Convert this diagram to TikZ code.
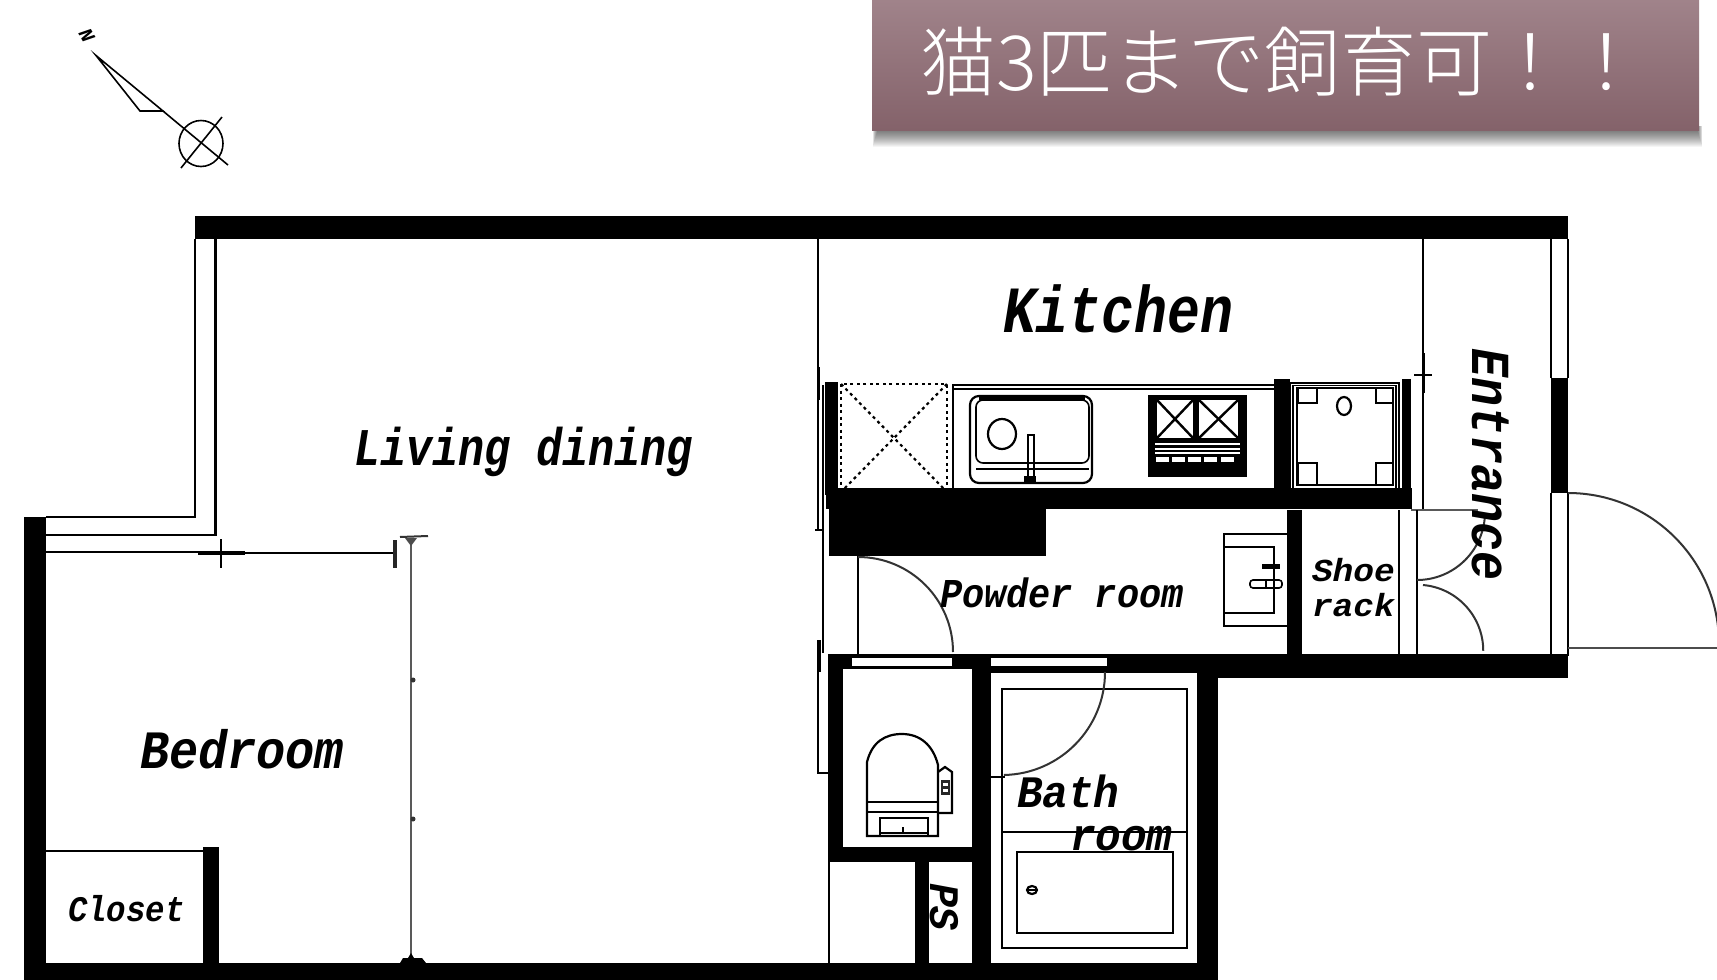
\documentclass[tikz,border=0pt]{standalone}
\usepackage{fontspec}
\newfontfamily\cadfont{Liberation Mono}
\newfontfamily\cjk{Noto Sans CJK JP}[UprightFont=* Light]
\newcommand{\cadsize}[1]{\cadfont\bfseries\itshape\fontsize{#1}{#1}\selectfont}
\definecolor{bannertop}{HTML}{A0838A}
\definecolor{bannerbot}{HTML}{84626A}
\tikzset{
  wall/.style={fill=black,draw=none},
  thinline/.style={draw=black,line width=2.2pt},
  hair/.style={draw=black,line width=1.6pt},
  grayline/.style={draw=black!65,line width=2.6pt},
  doorarc/.style={draw=black!80,line width=2pt},
  dotline/.style={draw=black,line width=2.2pt,dash pattern=on 3pt off 3.5pt},
  cadlabel/.style={anchor=base west,inner sep=0pt,outer sep=0pt,text=black,transform shape}
}
\begin{document}
\begin{tikzpicture}[x=1pt,y=-1pt]
\useasboundingbox[fill=white] (0,0) rectangle (1717,980);

% banner shadow
\foreach \d in {1,...,18}{
  \fill[black,opacity=.04] (878-\d*.3,126) rectangle (1697+\d*.3,129+\d);
}
\path[top color=bannertop,bottom color=bannerbot] (872,0) rectangle (1699,130);
\node[anchor=base west,inner sep=0pt,text=white,font=\cjk\fontsize{76}{76}\selectfont] (banner) at (920,90) {猫3匹まで飼育可！！};

% north mark
\node[cadlabel,rotate=-60,font=\cadsize{20}] (north) at (78,33) {N};
\draw[hair] (96,55.5) -- (163,111) -- (140,111) -- cycle;
\draw[hair] (163,111) -- (181,126);
\draw[hair] (201,143.5) circle[x radius=22pt,y radius=23pt];
\draw[hair] (222,117) -- (181,168);
\draw[hair] (181,126) -- (228,165);

% outer walls
\fill[wall] (195,216) rectangle (1568,239);
\fill[wall] (24,517) rectangle (46,980);
\fill[wall] (24,963) rectangle (1218,980);
\fill[wall] (203,847) rectangle (219,963);
\fill[wall] (1197,673) rectangle (1218,980);
\fill[wall] (1551,378) rectangle (1568,493);

% balcony-side double walls
\draw[thinline] (195,239) -- (195,517) -- (46,517);
\draw[thinline] (215.5,239) -- (215.5,535) -- (46,535);
\draw[thinline] (1551,239) -- (1551,378);
\draw[thinline] (1568,239) -- (1568,378);
\draw[thinline] (1551,493) -- (1551,656);
\draw[thinline] (1568,493) -- (1568,656);

% bedroom screen
\draw[thinline] (46,552) -- (200,552);
\draw[line width=4pt] (198,552.5) -- (245,552.5);
\draw[thinline] (221,539) -- (221,568);
\draw[thinline] (245,553) -- (395,553);
\draw[line width=4pt,black!85] (395,540) -- (395,568);
\draw[grayline] (411,538) -- (411,963);
\draw[line width=2pt,black!80] (400,537) -- (428,536);
\fill[black!70] (405,538) -- (417,538) -- (411,546) -- cycle;
\fill[black!80] (413,680) circle (2.5pt);
\fill[black!80] (413,819) circle (2.5pt);
\fill[black] (400,963) -- (403,958) -- (408,958) -- (411,953) -- (414,958) -- (422,958) -- (426,963) -- cycle;

% closet line
\draw[thinline] (46,851) -- (204,851);

% long thin partition
\draw[thinline] (818,239) -- (818,367);
\draw[line width=3pt] (818,367) -- (818,400);
\draw[thinline] (818,400) -- (818,530);
\draw[thinline] (823,385) -- (823,530) -- (815,530);
\draw[thinline] (823,530) -- (823,653);
\draw[line width=3.5pt] (819,640) -- (819,672);
\draw[thinline] (818,672) -- (818,773) -- (830,773);

% kitchen
\fill[wall] (825,382) rectangle (838,495);
\fill[wall] (826,488) rectangle (1412,509);
\fill[wall] (829,495) rectangle (1046,556);
\fill[wall] (1274,379) rectangle (1290,497);
\fill[wall] (1402,379) rectangle (1411,509);
% fridge
\draw[dotline] (841,384) rectangle (947,492);
\draw[dotline] (841,384) -- (947,492);
\draw[dotline] (947,384) -- (841,492);
% counter
\draw[thinline] (953,488) -- (953,385) -- (1274,385);
\draw[hair] (953,389) -- (1274,389);
% sink
\draw[thinline,rounded corners=9pt] (970,396) rectangle (1092,483);
\draw[hair,rounded corners=7pt] (976,400) rectangle (1089,463);
\draw[line width=4pt] (979,398) -- (1085,398);
\draw[hair] (976,469) -- (1089,469);
\draw[thinline] (1002,434) circle[x radius=14pt,y radius=15pt];
\draw[hair] (1028,435) rectangle (1034,482);
\fill[black] (1024,476) rectangle (1036,483);
% stove
\fill[wall] (1148,395) rectangle (1247,477);
\foreach \a/\b in {1157/1193,1199/1238}{
  \fill[white] (\a,400) rectangle (\b,438);
  \draw[line width=2.4pt] (\a,400) -- (\b,438);
  \draw[line width=2.4pt] (\b,400) -- (\a,438);
}
\foreach \y in {443,448,452}{\fill[white] (1155,\y) rectangle (1240,\y+2.2);}
\foreach \a in {1156,1172,1188,1204,1221}{\fill[white] (\a,457) rectangle (\a+13,462);}
% washer pan
\draw[hair] (1290,383) rectangle (1399,495);
\draw[hair] (1293,385.5) rectangle (1396,490);
\draw[hair] (1297,388) rectangle (1393,485);
\foreach \a/\b/\c/\d in {1298/1317/388/403,1376/1393/388/403,1298/1317/463/485,1376/1393/463/485}{
  \draw[thinline] (\a,\c) rectangle (\b,\d);
}
\draw[thinline] (1344,406) circle[x radius=7pt,y radius=9pt];

% thin lines near entrance
\draw[thinline] (1423,239) -- (1423,353);
\draw[line width=3pt] (1423,353) -- (1423,393);
\draw[thinline] (1414,375) -- (1432,375);
\draw[thinline] (1423,393) -- (1423,509);
\draw[grayline] (1411,510) -- (1478,510);
\draw[thinline] (1399,510) -- (1399,655);
\draw[thinline] (1417,510) -- (1417,655);
\fill[black] (1302,510) rectangle (1287,655);
\draw[doorarc] (1417,580) arc[start angle=-90,end angle=-5,radius=68pt];
\draw[doorarc] (1423,585) arc[start angle=85,end angle=0,radius=66pt];

% main door
\draw[doorarc] (1568,493) arc[start angle=90,end angle=2,radius=151pt];
\draw[hair,black!70] (1568,648) -- (1717,648);

% powder room
\draw[thinline] (858,556) -- (858,654);
\draw[doorarc] (858,557) arc[start angle=90,end angle=0,radius=95pt];
\draw[thinline] (1287,534) -- (1224,534) -- (1224,626) -- (1287,626);
\draw[thinline] (1224,547) -- (1274,547) -- (1274,613) -- (1224,613);
\draw[line width=5pt] (1262,566) -- (1280,566);
\draw[hair,rounded corners=3pt] (1250,580) rectangle (1282,588);
\draw[hair] (1266,580) -- (1266,588);

% lower wall band
\fill[wall] (829,654) rectangle (1568,678);
\fill[white] (852,657) rectangle (952,666);
\fill[white] (987,657) rectangle (1107,666);
\draw[hair] (852,657) -- (952,657);
\draw[hair] (987,657) -- (1107,657);
\fill[white] (843,669) rectangle (972,847);
\fill[wall] (828,654) rectangle (843,862);
\fill[wall] (828,847) rectangle (991,862);
\fill[wall] (972,654) rectangle (991,963);
\fill[wall] (915,862) rectangle (929,963);
\draw[thinline] (829,862) -- (829,963);
\fill[white] (991,673) rectangle (1197,960);

% toilet
\draw[thinline] (867,836) -- (867,762) .. controls (872,742) and (885,734) .. (902,734)
  .. controls (920,734) and (933,745) .. (938,765) -- (938,836) -- cycle;
\draw[thinline] (867,802) -- (938,802);
\draw[thinline] (867,812) -- (938,812);
\draw[thinline] (880,836) -- (880,818) -- (928,818) -- (928,836);
\draw[thinline] (880,833) -- (928,833);
\draw[hair] (903,827) -- (903,833);
\draw[thinline] (938,772) -- (945,767) -- (952,772) -- (952,813) -- (938,813);
\fill[black!85] (941,780) rectangle (950,795);
\fill[white] (943,783) rectangle (948,786);
\fill[white] (943,789) rectangle (948,792);

% bath
\draw[thinline] (1002,689) rectangle (1187,948);
\draw[thinline] (1002,832) -- (1187,832);
\draw[thinline] (1017,852) rectangle (1173,933);
\draw[thinline] (1032,890) circle[x radius=5pt,y radius=4pt];
\draw[hair] (1028,890) -- (1036,890);
\draw[doorarc] (1105,672) arc[start angle=0,end angle=-89,radius=103pt];
\draw[hair] (991,777) -- (1005,777);

% room labels
\node[cadlabel,xscale=.82,font=\cadsize{53}] (living) at (354,465) {Living dining};
\node[cadlabel,xscale=.83,font=\cadsize{66}] (kitchen) at (1003,332) {Kitchen};
\node[cadlabel,xscale=.9,font=\cadsize{54}] (bedroom) at (140,768) {Bedroom};
\node[cadlabel,xscale=.9,font=\cadsize{36}] (closet) at (68,921) {Closet};
\node[cadlabel,xscale=.9,font=\cadsize{41}] (powder) at (940,607) {Powder room};
\node[cadlabel,xscale=1.08,font=\cadsize{32}] (shoe) at (1312,581) {Shoe};
\node[cadlabel,xscale=1.08,font=\cadsize{32}] (rack) at (1312,616) {rack};
\node[cadlabel,xscale=.95,font=\cadsize{45}] (bathl) at (1017,807) {Bath};
\node[cadlabel,xscale=.95,font=\cadsize{45}] (rooml) at (1070,850) {room};
\node[cadlabel,rotate=-90,xscale=.88,font=\cadsize{55}] (entrance) at (1472,348) {Entrance};
\node[cadlabel,rotate=-90,xscale=.95,font=\cadsize{42}] (psl) at (930,883) {PS};
\end{tikzpicture}
\end{document}
